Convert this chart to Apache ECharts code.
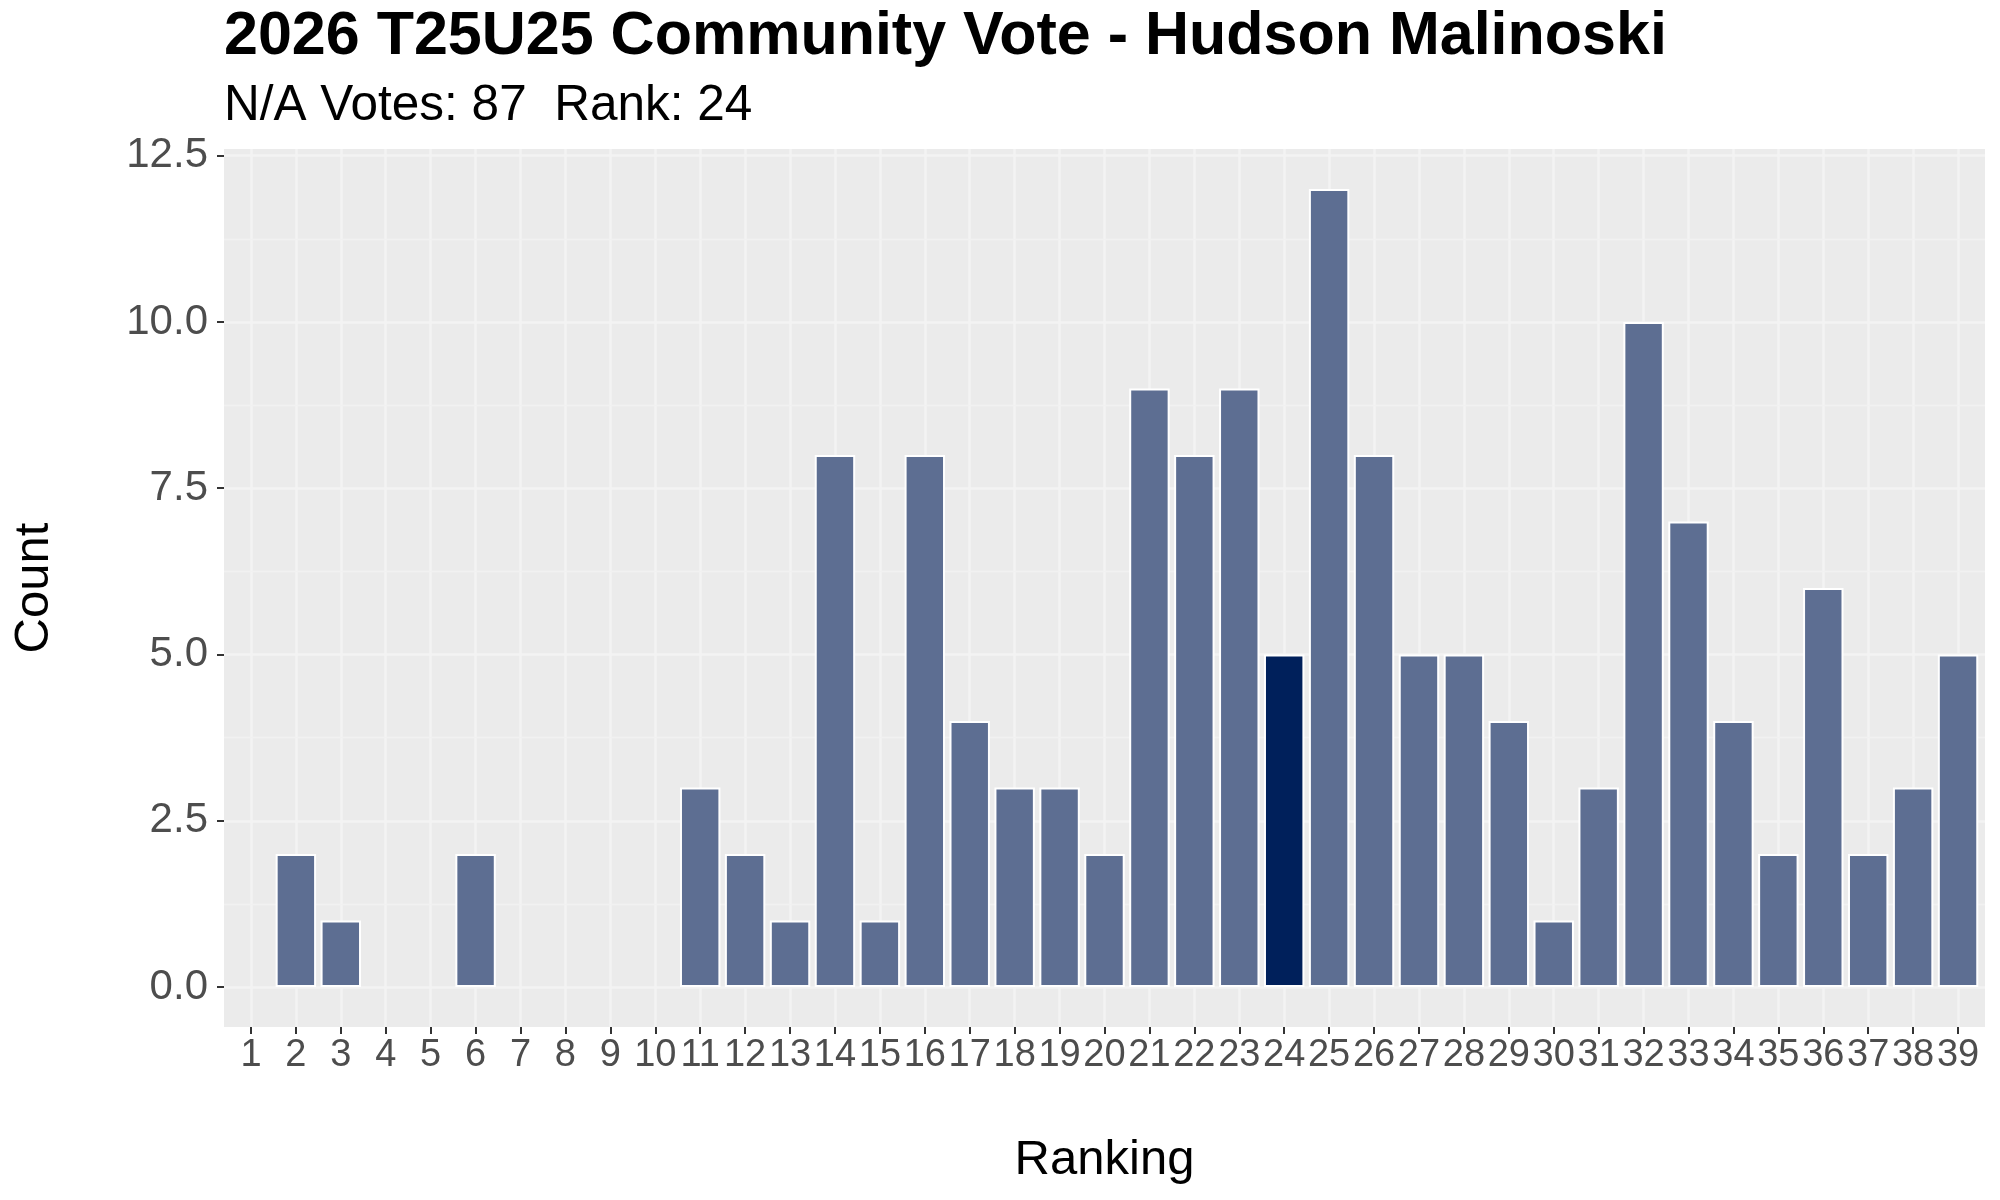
<!DOCTYPE html>
<html>
<head>
<meta charset="utf-8">
<title>2026 T25U25 Community Vote - Hudson Malinoski</title>
<script src="https://cdn.jsdelivr.net/npm/echarts@6/dist/echarts.min.js"></script>
<style>
  html, body { margin: 0; padding: 0; background: #fff; }
  #chart { width: 2000px; height: 1200px; }
</style>
</head>
<body>
<div id="chart"></div>
<script>
// 数据
var rankings = [1, 2, 3, 4, 5, 6, 7, 8, 9, 10, 11, 12, 13, 14, 15, 16, 17, 18, 19, 20,
                21, 22, 23, 24, 25, 26, 27, 28, 29, 30, 31, 32, 33, 34, 35, 36, 37, 38, 39];
var counts = [0, 2, 1, 0, 0, 2, 0, 0, 0, 0, 3, 2, 1, 8, 1, 8, 4, 3, 3, 2,
              9, 8, 9, 5, 12, 8, 5, 5, 4, 1, 3, 10, 7, 4, 2, 6, 2, 3, 5];
var yTicks = [0, 2.5, 5, 7.5, 10, 12.5];
var yMinor = [1.25, 3.75, 6.25, 8.75, 11.25];
var playerRank = 24;

var font = "'Liberation Sans', Arial, sans-serif";

// 没有票的名次不画柱子
var barData = [];
for (var i = 0; i < rankings.length; i++) {
    if (counts[i] > 0) {
        barData.push({
            value: [rankings[i], counts[i]],
            itemStyle: rankings[i] === playerRank ? { color: '#00205B' } : null
        });
    }
}

var option = {
    animation: false,
    title: [
        {
            text: '2026 T25U25 Community Vote - Hudson Malinoski',
            left: 224,
            top: 7,
            padding: 0,
            textStyle: { fontFamily: font, fontSize: 61, fontWeight: 'bold', color: '#000' }
        },
        {
            text: 'N/A Votes: 87  Rank: 24',
            left: 224,
            top: 81,
            padding: 0,
            textStyle: { fontFamily: font, fontSize: 49.5, fontWeight: 'normal', color: '#000' }
        }
    ],
    grid: {
        left: 224,
        right: 15,
        top: 149,
        bottom: 173,
        show: true,
        backgroundColor: '#EBEBEB',
        borderWidth: 0,
        outerBoundsMode: 'none'
    },
    xAxis: {
        type: 'value',
        min: 0.4,
        max: 39.6,
        name: 'Ranking',
        nameLocation: 'middle',
        nameGap: 109,
        nameTextStyle: { fontFamily: font, fontSize: 49, color: '#000' },
        axisLine: { show: false, onZero: false },
        axisTick: {
            show: true,
            customValues: rankings,
            length: 7,
            lineStyle: { color: '#333333', width: 2 }
        },
        axisLabel: {
            customValues: rankings,
            margin: 10,
            hideOverlap: false,
            fontFamily: font,
            fontSize: 38,
            color: '#4D4D4D'
        },
        splitLine: { show: true, lineStyle: { color: '#F3F3F3', width: 2.5 } }
    },
    yAxis: {
        type: 'value',
        min: -0.6,
        max: 12.6,
        name: 'Count',
        nameLocation: 'middle',
        nameRotate: 90,
        nameGap: 165,
        nameTextStyle: { fontFamily: font, fontSize: 49, color: '#000' },
        axisLine: { show: false, onZero: false },
        axisTick: {
            show: true,
            customValues: yTicks,
            length: 7,
            lineStyle: { color: '#333333', width: 2 }
        },
        axisLabel: {
            customValues: yTicks,
            margin: 16,
            fontFamily: font,
            fontSize: 42,
            color: '#4D4D4D',
            formatter: function (v) { return v.toFixed(1); }
        },
        splitLine: { show: true, lineStyle: { color: '#F3F3F3', width: 2.5 } }
    },
    series: [
        {
            // 次网格线
            type: 'line',
            data: [],
            silent: true,
            markLine: {
                silent: true,
                z: 1,
                symbol: 'none',
                label: { show: false },
                lineStyle: { color: '#F1F1F1', width: 1.3, type: 'solid' },
                data: yMinor.map(function (v) { return { yAxis: v }; })
            }
        },
        {
            type: 'bar',
            z: 3,
            barWidth: '90%',
            data: barData,
            itemStyle: { color: '#5D6E92', borderColor: '#FFFFFF', borderWidth: 2 }
        }
    ]
};

// 基于准备好的dom，初始化echarts实例
var myChart = echarts.init(document.getElementById('chart'));

// 使用刚指定的配置项和数据显示图表。
myChart.setOption(option);
</script>
</body>
</html>
